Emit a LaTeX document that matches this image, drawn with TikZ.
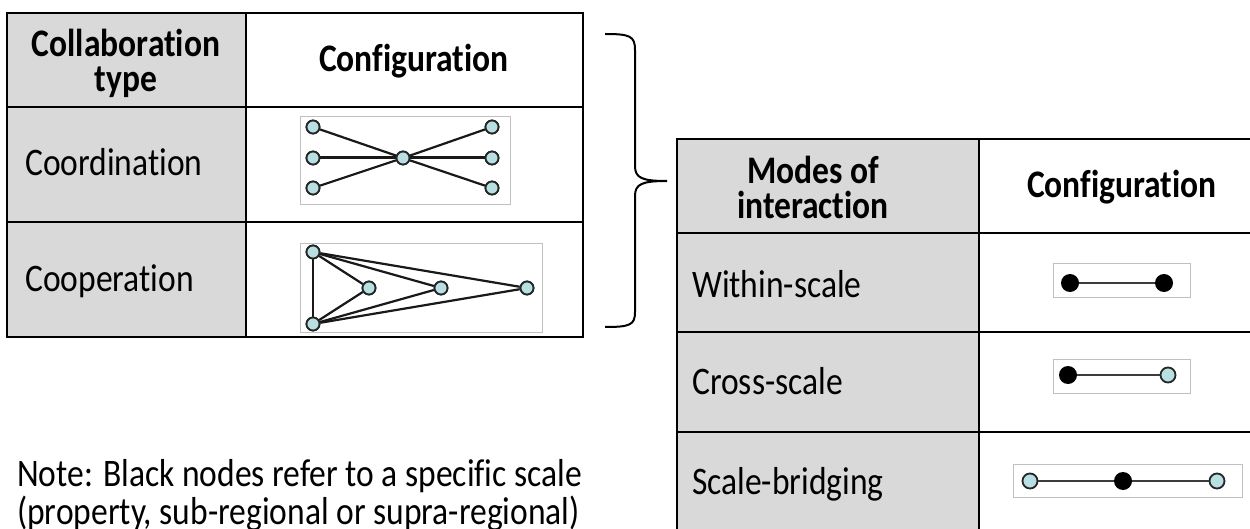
\documentclass[tikz,border=0pt]{standalone}
\usepackage{fontspec}
\setmainfont[FakeStretch=0.86, Ligatures=CommonOff]{Carlito}
\definecolor{cellgray}{RGB}{217,217,217}
\definecolor{nodecyan}{RGB}{184,224,227}
\definecolor{framegray}{RGB}{192,192,192}
\definecolor{edgegray}{RGB}{60,60,60}

\begin{document}
\begin{tikzpicture}[x=1pt,y=-1pt,
  grid/.style={draw=black, line width=2pt},
  hdr/.style={font=\fontsize{39}{35}\selectfont\bfseries, anchor=base, inner sep=0},
  hdrtwo/.style={font=\fontsize{39}{35}\selectfont\bfseries, align=center, anchor=center, inner sep=0},
  lbl/.style={font=\fontsize{39}{40}\selectfont, anchor=base west, inner sep=0},
  frame/.style={draw=framegray, line width=1pt, fill=white},
  cnode/.style={circle, draw=black!85, line width=1.8pt, fill=nodecyan, minimum size=13pt, inner sep=0},
  bnode/.style={circle, fill=black, minimum size=18pt, inner sep=0},
  wnode/.style={circle, draw=black!85, line width=1.8pt, fill=nodecyan, minimum size=15pt, inner sep=0},
  link/.style={line width=2.2pt, black!90},
  mlink/.style={line width=2pt, edgegray},
]
\useasboundingbox (0,0) rectangle (1250,529);
\clip (0,0) rectangle (1250,529);

% ---------- collaboration table ----------
\fill[cellgray] (7,13) rectangle (246,337);
\draw[grid] (7,13) rectangle (583,337);
\draw[grid] (246,13) -- (246,337);
\draw[grid] (7,107) -- (583,107);
\draw[grid] (7,222) -- (583,222);

\node[hdrtwo] (h1) at (126,63) {Collaboration\\type};
\node[hdr] (h2) at (414,72) {Configuration};
\node[lbl] (coord) at (25,176) {Coordination};
\node[lbl] (coop) at (25,291) {Cooperation};

% coordination star
\node[frame, minimum width=210pt, minimum height=88pt, inner sep=0] (fr1) at (405,161) {};
\node[cnode] (l1) at (313,127) {};
\node[cnode] (l2) at (313,158) {};
\node[cnode] (l3) at (313,188) {};
\node[cnode] (cc) at (403,158) {};
\node[cnode] (r1) at (492,127) {};
\node[cnode] (r2) at (492,158) {};
\node[cnode] (r3) at (492,188) {};
\draw[link] (l1) -- (cc) -- (r3);
\draw[link] (l3) -- (cc) -- (r1);
\draw[link, line width=3pt] (l2) -- (cc) -- (r2);
\foreach \n in {l1,l2,l3,cc,r1,r2,r3} \node[cnode] at (\n) {};

% cooperation fan
\node[frame, minimum width=242pt, minimum height=88pt, inner sep=0] (fr2) at (421,288) {};
\node[cnode] (ka) at (313,252) {};
\node[cnode] (kb) at (313,324) {};
\node[cnode] (kc) at (369,288) {};
\node[cnode] (kd) at (441,288) {};
\node[cnode] (ke) at (527,288) {};
\draw[link] (ka) -- (kb);
\foreach \t in {kc,kd,ke} {
  \draw[link] (ka) -- (\t);
  \draw[link] (kb) -- (\t);
}
\foreach \n in {ka,kb,kc,kd,ke} \node[cnode] at (\n) {};

% ---------- brace ----------
\draw[line width=2pt] (605,34) .. controls (630,34) and (635,36) .. (635,50)
  -- (635,166) .. controls (635,178) and (642,181) .. (667,181)
  .. controls (642,181) and (635,184) .. (635,196)
  -- (635,312) .. controls (635,325) and (630,327) .. (605,327);

% ---------- interaction table ----------
\fill[cellgray] (677,139) rectangle (979,545);
\draw[grid] (677,545) -- (677,139) -- (1260,139);
\draw[grid] (979,139) -- (979,545);
\draw[grid] (677,233) -- (1260,233);
\draw[grid] (677,332) -- (1260,332);
\draw[grid] (677,432) -- (1260,432);

\node[hdrtwo] (m1) at (813,187) {Modes of\\interaction};
\node[hdr] (m2) at (1122,198) {Configuration};
\node[lbl] (within) at (692,298) {Within-scale};
\node[lbl] (cross) at (692,394) {Cross-scale};
\node[lbl] (bridge) at (692,494) {Scale-bridging};

% within-scale
\node[frame, minimum width=137pt, minimum height=34pt, inner sep=0] (fw) at (1121.5,281) {};
\node[bnode] (w1) at (1070,283) {};
\node[bnode] (w2) at (1164,283) {};
\draw[mlink] (w1) -- (w2);

% cross-scale
\node[frame, minimum width=137pt, minimum height=34pt, inner sep=0] (fc) at (1121.5,376) {};
\node[bnode] (x1) at (1068,375) {};
\node[wnode] (x2) at (1168,375) {};
\draw[mlink] (x1) -- (x2);

% scale-bridging
\node[frame, minimum width=229pt, minimum height=33pt, inner sep=0] (fb) at (1127.5,480.5) {};
\node[wnode] (s1) at (1030,481) {};
\node[bnode] (s2) at (1123,481) {};
\node[wnode] (s3) at (1217,481) {};
\draw[mlink] (s1) -- (s2) -- (s3);

% ---------- note ----------
\node[lbl] (note1) at (17,486) {Note: Black nodes refer to a specific scale};
\node[lbl] (note2) at (17,524) {(property, sub-regional or supra-regional)};
\end{tikzpicture}
\end{document}
